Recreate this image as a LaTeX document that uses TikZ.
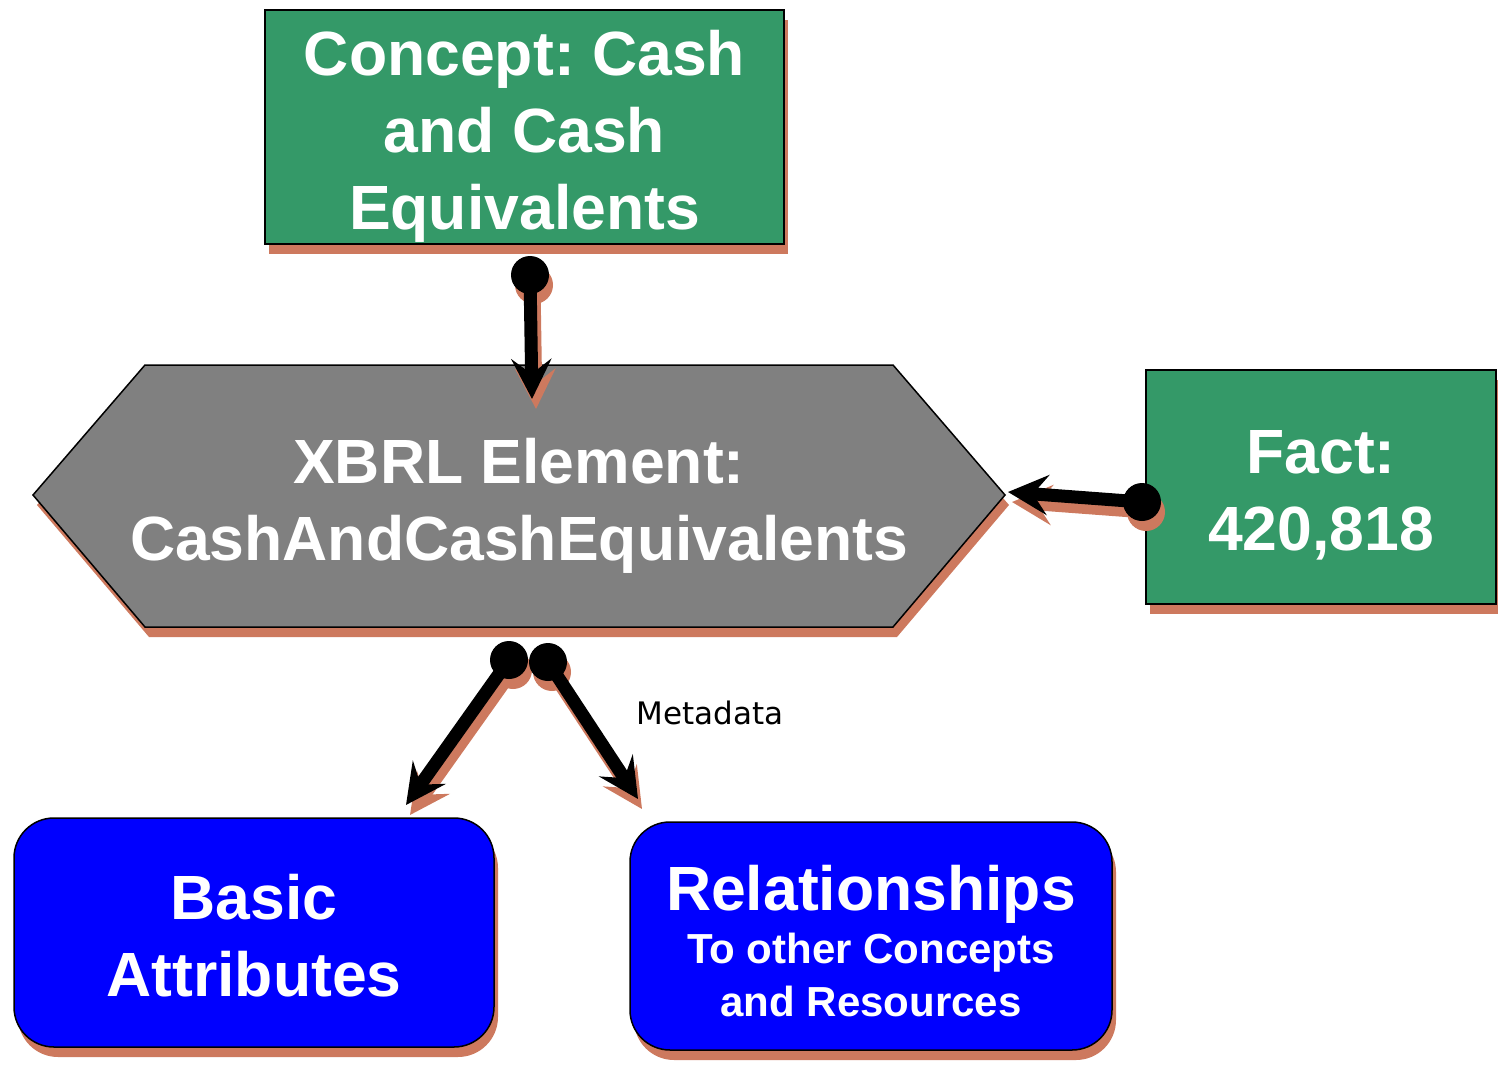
\documentclass[tikz,border=0pt]{standalone}
\usepackage{fontspec}
\setmainfont{Liberation Sans}
\newfontfamily\labelfont{DejaVu Sans}
\usetikzlibrary{arrows.meta,shadows}
\frenchspacing

\definecolor{boxgreen}{RGB}{52,153,104}
\definecolor{elemgray}{RGB}{128,128,128}
\definecolor{relblue}{RGB}{0,0,255}
\definecolor{shadowc}{RGB}{205,121,94}

\tikzset{
  bigtext/.style={text=white, align=center,
    font=\fontsize{62.5}{77}\selectfont\bfseries\frenchspacing},
  boxshadow/.style={general shadow={shadow xshift=4pt, shadow yshift=-10pt, fill=shadowc}},
  greenbox/.style={draw=black, line width=1.5pt, fill=boxgreen, boxshadow},
  bluebox/.style={draw=black, line width=1.5pt, fill=relblue, rounded corners=40pt, boxshadow},
  link/.style={line width=13pt, -{Stealth[length=40pt, width=40pt, inset=15pt]}},
}

% connector: shadow copy, then a black line with a round dot at its start
\newcommand\linkarrow[2]{%
  \begin{scope}[transform canvas={shift={(4,10)}}]
    \draw[link, draw=shadowc, fill=shadowc] (#1) -- (#2);
    \fill[shadowc] (#1) circle[radius=19];
  \end{scope}
  \draw[link] (#1) -- (#2);
  \fill (#1) circle[radius=19];
}

\begin{document}
\begin{tikzpicture}[x=1pt, y=-1pt]
\useasboundingbox (0,0) rectangle (1498,1067);

% boxes
\node[greenbox, minimum width=519pt, minimum height=234pt,
  label={[bigtext, yshift=-9pt]center:Concept: Cash\\and Cash\\Equivalents}] (concept) at (524.5,127) {};
\node[greenbox, minimum width=350pt, minimum height=234pt,
  label={[bigtext, yshift=-8pt]center:Fact:\\420,818}] (fact) at (1321,487) {};
\node[bluebox, minimum width=480pt, minimum height=229pt,
  label={[bigtext, yshift=-3pt]center:Basic\\Attributes}] (basic) at (254,932.5) {};
\node[bluebox, minimum width=482pt, minimum height=228pt,
  label={[bigtext, yshift=-5pt]center:Relationships\\[-24pt]{\fontsize{42}{52}\selectfont To other Concepts}\\[-24pt]{\fontsize{42}{52}\selectfont and Resources}}] (rel) at (871,936) {};

% element hexagon
\fill[shadowc] (149,375) -- (897,375) -- (1009,505) -- (897,637) -- (149,637) -- (37,505) -- cycle;
\draw[line width=1.5pt, fill=elemgray] (145,365) -- (893,365) -- (1005,495) -- (893,627) -- (145,627) -- (33,495) -- cycle;
\node[bigtext] (element) at (519,506) {XBRL Element:\\CashAndCashEquivalents};

% connector ends
\coordinate (d1) at (530,275);
\coordinate (t1) at (532,399);
\coordinate (d2) at (1142,502);
\coordinate (t2) at (1008,492);
\coordinate (d3) at (509,660);
\coordinate (t3) at (406,805);
\coordinate (d4) at (548,662);
\coordinate (t4) at (638,799);

\linkarrow{d1}{t1}
\linkarrow{d2}{t2}
\linkarrow{d3}{t3}
\linkarrow{d4}{t4}

\node[font=\labelfont\fontsize{31}{36}\selectfont] (meta) at (710,713) {Metadata};
\end{tikzpicture}
\end{document}
